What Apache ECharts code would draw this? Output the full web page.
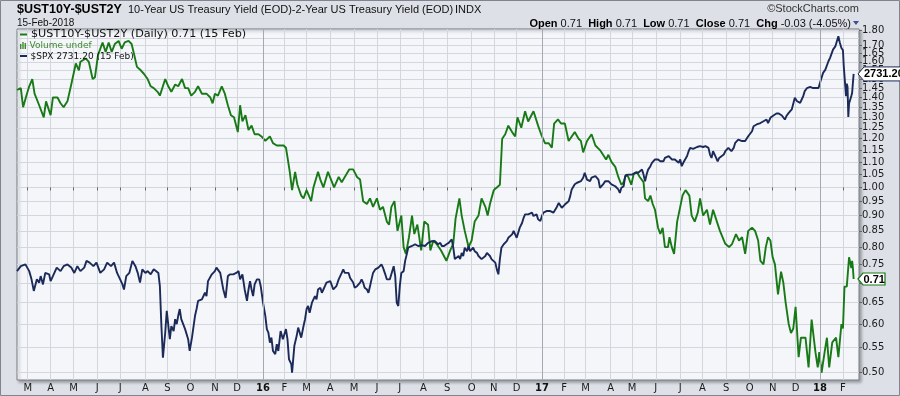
<!DOCTYPE html>
<html><head><meta charset="utf-8">
<script src="https://cdn.jsdelivr.net/npm/echarts@6/dist/echarts.min.js"></script>
<style>html,body{margin:0;padding:0;background:#dde0e7;}#c{width:900px;height:396px;}</style>
</head><body><div id="c"></div>
<script>
// ---- data ----
const spreadDates = [
'2015-02-16','2015-02-21','2015-02-24','2015-03-01','2015-03-04','2015-03-08','2015-03-11','2015-03-17','2015-03-23','2015-03-26',
'2015-04-01','2015-04-04','2015-04-10','2015-04-14','2015-04-18','2015-04-23','2015-04-28','2015-05-04','2015-05-08','2015-05-10',
'2015-05-17','2015-05-21','2015-05-26','2015-05-29','2015-06-02','2015-06-08','2015-06-12','2015-06-16','2015-06-20','2015-06-24',
'2015-06-29','2015-07-03','2015-07-07','2015-07-12','2015-07-16','2015-07-19','2015-07-23','2015-07-28','2015-08-01','2015-08-06',
'2015-08-10','2015-08-14','2015-08-19','2015-08-22','2015-08-29','2015-09-02','2015-09-06','2015-09-11','2015-09-15','2015-09-20',
'2015-09-24','2015-09-28','2015-10-02','2015-10-07','2015-10-11','2015-10-16','2015-10-22','2015-10-27','2015-10-30','2015-11-02',
'2015-11-06','2015-11-11','2015-11-15','2015-11-19','2015-11-23','2015-11-27','2015-12-02','2015-12-05','2015-12-08','2015-12-12',
'2015-12-16','2015-12-20','2015-12-24','2015-12-29','2016-01-02','2016-01-07','2016-01-13','2016-01-17','2016-01-22','2016-01-26',
'2016-01-31','2016-02-03','2016-02-05','2016-02-08','2016-02-11','2016-02-15','2016-02-18','2016-02-23','2016-02-26','2016-03-01',
'2016-03-07','2016-03-10','2016-03-16','2016-03-19','2016-03-23','2016-03-29','2016-04-02','2016-04-06','2016-04-12','2016-04-16',
'2016-04-20','2016-04-26','2016-05-01','2016-05-06','2016-05-10','2016-05-14','2016-05-19','2016-05-23','2016-05-27','2016-06-01',
'2016-06-05','2016-06-09','2016-06-14','2016-06-17','2016-06-20','2016-06-24','2016-06-28','2016-07-03','2016-07-06','2016-07-09',
'2016-07-13','2016-07-17','2016-07-20','2016-07-24','2016-07-29','2016-08-02','2016-08-07','2016-08-10','2016-08-14','2016-08-18',
'2016-08-24','2016-08-31','2016-09-05','2016-09-09','2016-09-12','2016-09-17','2016-09-20','2016-09-24','2016-09-29','2016-10-03',
'2016-10-07','2016-10-12','2016-10-16','2016-10-21','2016-10-24','2016-10-27','2016-11-01','2016-11-05','2016-11-09','2016-11-12',
'2016-11-16','2016-11-20','2016-11-25','2016-11-29','2016-12-02','2016-12-07','2016-12-12','2016-12-16','2016-12-23','2016-12-29',
'2017-01-02','2017-01-07','2017-01-12','2017-01-16','2017-01-19','2017-01-24','2017-01-28','2017-02-02','2017-02-07','2017-02-11',
'2017-02-15','2017-02-20','2017-02-23','2017-02-26','2017-03-03','2017-03-09','2017-03-14','2017-03-20','2017-03-24','2017-03-28',
'2017-03-31','2017-04-04','2017-04-09','2017-04-13','2017-04-17','2017-04-20','2017-04-23','2017-04-26','2017-04-30','2017-05-03',
'2017-05-07','2017-05-11','2017-05-16','2017-05-18','2017-05-22','2017-05-25','2017-05-28','2017-05-31','2017-06-04','2017-06-07',
'2017-06-10','2017-06-13','2017-06-17','2017-06-19','2017-06-22','2017-06-25','2017-06-29','2017-07-03','2017-07-06','2017-07-10',
'2017-07-15','2017-07-18','2017-07-22','2017-07-26','2017-07-29','2017-08-02','2017-08-07','2017-08-11','2017-08-15','2017-08-20',
'2017-08-24','2017-08-31','2017-09-05','2017-09-09','2017-09-14','2017-09-18','2017-09-22','2017-09-26','2017-09-30','2017-10-05',
'2017-10-09','2017-10-13','2017-10-16','2017-10-20','2017-10-23','2017-10-26','2017-10-29','2017-11-01','2017-11-04','2017-11-08',
'2017-11-12','2017-11-15','2017-11-18','2017-11-22','2017-11-25','2017-11-28','2017-12-01','2017-12-05','2017-12-08','2017-12-11',
'2017-12-14','2017-12-18','2017-12-22','2017-12-27','2017-12-30','2018-01-01','2018-01-04','2018-01-08','2018-01-11','2018-01-14',
'2018-01-18','2018-01-23','2018-01-26','2018-01-30','2018-02-01','2018-02-03','2018-02-06','2018-02-09','2018-02-12','2018-02-13',
'2018-02-14','2018-02-15'];
const spreadValues = [
1.44,1.45,1.35,1.42,1.46,1.50,1.42,1.36,1.30,1.38,
1.31,1.40,1.40,1.37,1.35,1.38,1.47,1.59,1.55,1.60,
1.62,1.60,1.50,1.51,1.64,1.72,1.66,1.72,1.66,1.71,
1.73,1.68,1.72,1.73,1.71,1.65,1.57,1.55,1.53,1.50,
1.46,1.45,1.43,1.41,1.50,1.46,1.43,1.47,1.46,1.50,
1.45,1.45,1.41,1.43,1.46,1.42,1.42,1.40,1.37,1.42,
1.41,1.46,1.42,1.36,1.31,1.30,1.23,1.36,1.28,1.31,
1.24,1.26,1.22,1.22,1.21,1.19,1.21,1.18,1.17,1.17,
1.17,1.16,1.12,1.06,0.99,1.06,1.01,0.97,0.96,0.99,
0.95,1.00,1.06,1.03,1.00,1.06,1.03,1.00,1.04,1.02,
1.04,1.07,1.07,1.04,1.03,0.95,0.94,0.96,0.93,0.96,
0.92,0.93,0.88,0.87,0.93,0.95,0.85,0.90,0.80,0.78,
0.83,0.90,0.84,0.87,0.79,0.88,0.87,0.79,0.82,0.81,
0.79,0.76,0.79,0.81,0.89,0.96,0.90,0.85,0.80,0.82,
0.88,0.90,0.96,0.93,0.90,0.94,0.99,1.00,1.01,1.20,
1.22,1.26,1.23,1.21,1.30,1.25,1.33,1.28,1.33,1.26,
1.22,1.18,1.18,1.16,1.27,1.29,1.27,1.27,1.19,1.21,
1.23,1.20,1.19,1.14,1.19,1.22,1.17,1.15,1.13,1.11,
1.13,1.10,1.08,1.04,1.01,1.02,1.05,1.04,1.01,1.05,
1.06,1.04,1.02,0.96,0.95,0.97,0.94,0.92,0.86,0.84,
0.86,0.80,0.80,0.83,0.80,0.78,0.88,0.93,0.97,0.99,
0.97,0.90,0.88,0.91,0.96,0.90,0.92,0.87,0.92,0.88,
0.85,0.81,0.80,0.81,0.84,0.82,0.83,0.78,0.85,0.86,
0.85,0.82,0.76,0.75,0.80,0.83,0.82,0.77,0.75,0.67,
0.73,0.70,0.65,0.60,0.58,0.59,0.64,0.53,0.57,0.57,
0.57,0.51,0.61,0.54,0.51,0.54,0.50,0.54,0.57,0.51,
0.56,0.57,0.53,0.60,0.59,0.69,0.69,0.77,0.74,0.76,
0.74,0.71];

const spxDates = [
'2015-02-16','2015-02-21','2015-02-27','2015-03-04','2015-03-07','2015-03-10','2015-03-14','2015-03-17','2015-03-19','2015-03-22',
'2015-03-25','2015-03-30','2015-04-01','2015-04-04','2015-04-09','2015-04-14','2015-04-18','2015-04-23','2015-04-28','2015-05-02',
'2015-05-06','2015-05-10','2015-05-15','2015-05-18','2015-05-22','2015-05-27','2015-05-31','2015-06-05','2015-06-10','2015-06-14',
'2015-06-19','2015-06-23','2015-06-27','2015-07-01','2015-07-04','2015-07-06','2015-07-09','2015-07-13','2015-07-17','2015-07-21',
'2015-07-24','2015-07-27','2015-07-30','2015-08-03','2015-08-06','2015-08-10','2015-08-14','2015-08-20','2015-08-22','2015-08-24',
'2015-08-26','2015-08-29','2015-08-31','2015-09-02','2015-09-04','2015-09-06','2015-09-09','2015-09-11','2015-09-13','2015-09-15',
'2015-09-17','2015-09-19','2015-09-24','2015-09-28','2015-09-30','2015-10-03','2015-10-07','2015-10-09','2015-10-11','2015-10-16',
'2015-10-20','2015-10-22','2015-10-24','2015-10-29','2015-11-02','2015-11-04','2015-11-09','2015-11-11','2015-11-13','2015-11-16',
'2015-11-19','2015-11-22','2015-11-26','2015-11-30','2015-12-03','2015-12-05','2015-12-08','2015-12-11','2015-12-14','2015-12-16',
'2015-12-18','2015-12-20','2015-12-22','2015-12-24','2015-12-27','2015-12-30','2016-01-01','2016-01-04','2016-01-07','2016-01-09',
'2016-01-11','2016-01-13','2016-01-15','2016-01-17','2016-01-20','2016-01-22','2016-01-24','2016-01-27','2016-01-30','2016-02-03',
'2016-02-05','2016-02-07','2016-02-10','2016-02-11','2016-02-14','2016-02-17','2016-02-19','2016-02-23','2016-02-26','2016-02-28',
'2016-03-01','2016-03-03','2016-03-05','2016-03-08','2016-03-10','2016-03-12','2016-03-14','2016-03-16','2016-03-19','2016-03-21',
'2016-03-23','2016-03-25','2016-03-27','2016-03-29','2016-04-01','2016-04-03','2016-04-05','2016-04-07','2016-04-09','2016-04-12',
'2016-04-14','2016-04-16','2016-04-18','2016-04-20','2016-04-22','2016-04-25','2016-04-27','2016-04-29','2016-05-01','2016-05-03',
'2016-05-06','2016-05-08','2016-05-10','2016-05-12','2016-05-14','2016-05-16','2016-05-19','2016-05-21','2016-05-23','2016-05-25',
'2016-05-27','2016-05-30','2016-06-01','2016-06-03','2016-06-05','2016-06-07','2016-06-09','2016-06-12','2016-06-14','2016-06-16',
'2016-06-18','2016-06-20','2016-06-23','2016-06-25','2016-06-27','2016-06-29','2016-07-01','2016-07-03','2016-07-06','2016-07-08',
'2016-07-10','2016-07-12','2016-07-17','2016-07-21','2016-07-25','2016-07-30','2016-08-03','2016-08-07','2016-08-12','2016-08-16',
'2016-08-20','2016-08-23','2016-08-25','2016-08-28','2016-08-31','2016-09-03','2016-09-05','2016-09-07','2016-09-09','2016-09-11',
'2016-09-13','2016-09-16','2016-09-18','2016-09-20','2016-09-22','2016-09-24','2016-09-27','2016-09-29','2016-10-01','2016-10-03',
'2016-10-05','2016-10-07','2016-10-10','2016-10-12','2016-10-14','2016-10-16','2016-10-18','2016-10-21','2016-10-23','2016-10-25',
'2016-10-27','2016-10-29','2016-10-31','2016-11-03','2016-11-05','2016-11-07','2016-11-09','2016-11-11','2016-11-14','2016-11-16',
'2016-11-18','2016-11-20','2016-11-22','2016-11-25','2016-11-27','2016-11-29','2016-12-01','2016-12-03','2016-12-05','2016-12-08',
'2016-12-10','2016-12-12','2016-12-14','2016-12-16','2016-12-18','2016-12-21','2016-12-23','2016-12-25','2016-12-27','2016-12-29',
'2017-01-01','2017-01-03','2017-01-05','2017-01-07','2017-01-09','2017-01-11','2017-01-14','2017-01-16','2017-01-18','2017-01-20',
'2017-01-22','2017-01-25','2017-01-27','2017-01-29','2017-01-31','2017-02-02','2017-02-04','2017-02-07','2017-02-09','2017-02-11',
'2017-02-13','2017-02-15','2017-02-18','2017-02-20','2017-02-23','2017-02-26','2017-02-28','2017-03-03','2017-03-05','2017-03-07',
'2017-03-09','2017-03-11','2017-03-14','2017-03-16','2017-03-18','2017-03-20','2017-03-22','2017-03-24','2017-03-27','2017-03-29',
'2017-03-31','2017-04-02','2017-04-04','2017-04-06','2017-04-09','2017-04-11','2017-04-13','2017-04-15','2017-04-17','2017-04-20',
'2017-04-22','2017-04-24','2017-04-26','2017-04-28','2017-05-01','2017-05-03','2017-05-05','2017-05-07','2017-05-09','2017-05-11',
'2017-05-14','2017-05-16','2017-05-18','2017-05-20','2017-05-22','2017-05-25','2017-05-27','2017-05-29','2017-05-31','2017-06-02',
'2017-06-04','2017-06-07','2017-06-09','2017-06-11','2017-06-13','2017-06-15','2017-06-18','2017-06-20','2017-06-22','2017-06-24',
'2017-06-26','2017-06-28','2017-07-01','2017-07-03','2017-07-05','2017-07-07','2017-07-09','2017-07-12','2017-07-14','2017-07-16',
'2017-07-18','2017-07-20','2017-07-22','2017-07-25','2017-07-27','2017-07-29','2017-07-31','2017-08-02','2017-08-05','2017-08-07',
'2017-08-09','2017-08-11','2017-08-13','2017-08-15','2017-08-18','2017-08-21','2017-08-23','2017-08-25','2017-08-29','2017-08-31',
'2017-09-02','2017-09-04','2017-09-06','2017-09-08','2017-09-11','2017-09-13','2017-09-15','2017-09-17','2017-09-19','2017-09-22',
'2017-09-24','2017-09-26','2017-09-28','2017-09-30','2017-10-02','2017-10-05','2017-10-07','2017-10-09','2017-10-11','2017-10-13',
'2017-10-16','2017-10-18','2017-10-20','2017-10-22','2017-10-24','2017-10-26','2017-10-29','2017-10-31','2017-11-02','2017-11-04',
'2017-11-06','2017-11-09','2017-11-11','2017-11-13','2017-11-15','2017-11-17','2017-11-19','2017-11-22','2017-11-24','2017-11-26',
'2017-11-28','2017-11-30','2017-12-03','2017-12-05','2017-12-07','2017-12-09','2017-12-11','2017-12-13','2017-12-16','2017-12-18',
'2017-12-20','2017-12-22','2017-12-24','2017-12-27','2017-12-29','2017-12-31','2018-01-02','2018-01-04','2018-01-06','2018-01-09',
'2018-01-11','2018-01-13','2018-01-15','2018-01-17','2018-01-19','2018-01-22','2018-01-24','2018-01-26','2018-01-28','2018-01-30',
'2018-02-01','2018-02-02','2018-02-05','2018-02-06','2018-02-07','2018-02-08','2018-02-09','2018-02-12','2018-02-13','2018-02-14',
'2018-02-15'];
const spxValues = [
2096,2110,2115,2096,2073,2041,2073,2064,2082,2059,
2091,2087,2068,2082,2106,2096,2110,2115,2106,2091,
2110,2096,2106,2125,2120,2110,2120,2091,2101,2120,
2110,2120,2091,2073,2059,2045,2082,2091,2125,2110,
2091,2064,2101,2091,2096,2087,2101,2091,2054,1947,
1866,1930,1987,1982,1913,1947,1934,1965,1952,1974,
1992,1965,1939,1913,1883,1917,1974,1992,2014,2018,
2036,2027,2068,2087,2096,2106,2091,2096,2045,2022,
2082,2087,2087,2091,2096,2073,2087,2045,2014,2045,
2068,2045,2027,2059,2073,2073,2054,2009,1974,1939,
1930,1904,1917,1883,1875,1900,1883,1934,1913,1939,
1913,1862,1850,1829,1896,1921,1943,1917,1947,1965,
1992,2000,1982,2009,2018,2027,2018,2045,2050,2036,
2045,2054,2064,2059,2068,2064,2045,2041,2054,2073,
2082,2091,2101,2091,2087,2091,2077,2082,2064,2050,
2054,2059,2064,2073,2064,2050,2045,2036,2054,2073,
2091,2101,2096,2106,2110,2115,2106,2087,2073,2073,
2073,2077,2110,2082,2009,2000,2054,2091,2096,2125,
2143,2163,2168,2173,2168,2170,2168,2177,2182,2182,
2173,2177,2168,2168,2173,2177,2178,2187,2163,2130,
2125,2139,2130,2148,2139,2163,2153,2168,2153,2158,
2163,2153,2148,2139,2134,2130,2134,2139,2148,2144,
2139,2130,2130,2120,2101,2087,2130,2163,2173,2168,
2182,2192,2197,2202,2212,2202,2192,2207,2222,2236,
2251,2262,2257,2262,2259,2267,2257,2255,2262,2247,
2242,2257,2267,2272,2272,2274,2272,2271,2267,2272,
2282,2297,2292,2282,2287,2292,2292,2302,2318,2339,
2344,2355,2360,2365,2365,2376,2392,2370,2376,2365,
2376,2370,2381,2376,2370,2344,2339,2355,2365,2360,
2365,2360,2355,2360,2349,2344,2339,2328,2344,2349,
2381,2386,2386,2392,2386,2392,2392,2397,2392,2397,
2402,2386,2365,2386,2402,2413,2424,2429,2435,2429,
2435,2429,2435,2429,2440,2435,2446,2451,2435,2429,
2435,2440,2424,2435,2413,2424,2429,2446,2462,2473,
2476,2470,2473,2476,2473,2479,2473,2476,2479,2481,
2473,2451,2440,2462,2446,2429,2440,2446,2451,2462,
2457,2473,2468,2462,2473,2490,2496,2501,2501,2496,
2501,2496,2496,2512,2518,2529,2546,2552,2552,2555,
2557,2557,2563,2569,2569,2557,2575,2581,2583,2586,
2590,2590,2586,2583,2581,2569,2581,2592,2598,2604,
2610,2645,2633,2639,2627,2639,2651,2669,2680,2686,
2684,2680,2680,2680,2686,2680,2699,2717,2735,2747,
2753,2778,2790,2797,2822,2834,2841,2873,2847,2828,
2819,2762,2651,2696,2684,2578,2625,2652,2662,2698,
2731.20];

const yTickValues = [0.50,0.55,0.60,0.65,0.70,0.75,0.80,0.85,0.90,0.95,1.00,1.05,1.10,1.15,1.20,1.25,1.30,1.35,1.40,1.45,1.50,1.55,1.60,1.65,1.70,1.75,1.80];
const xTickDates = ['2015-03-02','2015-04-01','2015-05-01','2015-06-01','2015-07-01','2015-08-03','2015-09-01','2015-10-01','2015-11-02','2015-12-01',
'2016-01-04','2016-02-01','2016-03-01','2016-04-01','2016-05-02','2016-06-01','2016-07-01','2016-08-01','2016-09-01','2016-10-03','2016-11-01','2016-12-01',
'2017-01-03','2017-02-01','2017-03-01','2017-04-03','2017-05-01','2017-06-01','2017-07-03','2017-08-01','2017-09-01','2017-10-02','2017-11-01','2017-12-01',
'2018-01-02','2018-02-01'];
const xTickLabels = ['M','A','M','J','J','A','S','O','N','D','16','F','M','A','M','J','J','A','S','O','N','D','17','F','M','A','M','J','J','A','S','O','N','D','18','F'];
const yearLineDates = ['2016-01-04','2017-01-03','2018-01-02'];
const xStart = '2015-02-16', xEnd = '2018-02-22';

// ---- chart ----
const GREEN = '#187a16', NAVY = '#1b2a58';
const ts = d => echarts.time.parse(d).getTime();
const chart = echarts.init(document.getElementById('c'), null, {renderer: 'canvas'});
const xTickTimes = xTickDates.map(ts);
const labelByTime = {};
xTickTimes.forEach((t, i) => { labelByTime[t] = xTickLabels[i]; });
const SPR_MIN = 0.4866, SPR_MAX = 1.8088;

const option = {
  animation: false,
  backgroundColor: '#dde0e7',
  grid: {left: 17, right: 41, top: 29, bottom: 16, show: true, backgroundColor: '#f5f6fa',
         borderColor: '#7a7e87', borderWidth: 1, shadowColor: 'rgba(0,0,0,0.3)', shadowBlur: 3, shadowOffsetX: 2, shadowOffsetY: 2},
  xAxis: {
    type: 'value', min: ts(xStart), max: ts(xEnd),
    axisLine: {show: false},
    axisTick: {show: true, customValues: xTickTimes, length: 3, lineStyle: {color: '#666'}},
    axisLabel: {
      customValues: xTickTimes, margin: 3, fontFamily: 'DejaVu Sans', fontSize: 10, color: '#1a1a1a', hideOverlap: false,
      showMinLabel: true, showMaxLabel: true,
      formatter: function (v) { const t = labelByTime[v]; if (t == null) return ''; return /\d/.test(t) ? '{y|' + t + '}' : t; },
      rich: {y: {fontFamily: 'DejaVu Sans', fontSize: 10, fontWeight: 'bold', color: '#111'}}
    },
    splitLine: {show: true, lineStyle: {color: '#d3d6dd', width: 1}}
  },
  yAxis: [
    {type: 'log', logBase: 10, min: SPR_MIN, max: SPR_MAX, position: 'right', show: false},
    {type: 'log', logBase: 10, min: 1811, max: 2901, position: 'right', show: false},
    {type: 'value', position: 'right', min: Math.log10(SPR_MIN), max: Math.log10(SPR_MAX),
     axisLine: {show: false},
     axisTick: {show: true, customValues: yTickValues.map(v => Math.log10(v)), length: 3, lineStyle: {color: '#666'}},
     axisLabel: {customValues: yTickValues.map(v => Math.log10(v)), margin: 3, fontFamily: 'DejaVu Sans', fontSize: 10, lineHeight: 5,
                 color: '#1a1a1a', hideOverlap: false, showMinLabel: true, showMaxLabel: true,
                 formatter: v => Math.pow(10, v).toFixed(2)},
     splitLine: {show: true, lineStyle: {color: '#d3d6dd', width: 1}}}
  ],
  series: [
    {type: 'line', name: '$UST10Y-$UST2Y', yAxisIndex: 0, showSymbol: false, symbol: 'none',
     data: spreadDates.map((d, i) => [ts(d), spreadValues[i]]),
     lineStyle: {color: GREEN, width: 1.9}, itemStyle: {color: GREEN}, z: 3,
     markLine: {silent: true, symbol: ['none', 'none'], label: {show: false}, animation: false,
                lineStyle: {color: '#a4a8b0', width: 1, type: 'solid'},
                data: yearLineDates.map(d => ({xAxis: ts(d)}))}},
    {type: 'line', name: '$SPX', yAxisIndex: 1, showSymbol: false, symbol: 'none',
     data: spxDates.map((d, i) => [ts(d), spxValues[i]]),
     lineStyle: {color: NAVY, width: 1.9}, itemStyle: {color: NAVY}, z: 4}
  ]
};
chart.setOption(option);

const lastSpr = spreadValues[spreadValues.length - 1];
const lastSpx = spxValues[spxValues.length - 1];
const ySpr = chart.convertToPixel({yAxisIndex: 0}, lastSpr);
const ySpx = chart.convertToPixel({yAxisIndex: 1}, lastSpx);

const txt = (x, y, text, o, z) => ({type: 'text', x: x, y: y, z: z || 100,
  style: Object.assign({text: text, fill: '#111', fontFamily: 'Liberation Sans', fontSize: 11, verticalAlign: 'middle', align: 'left'}, o || {})});

const graphics = [
  {type: 'rect', shape: {x: 0.5, y: 0.5, width: 899, height: 395}, style: {fill: 'none', stroke: '#80848c', lineWidth: 1}, z: 100},
  txt(17, 9.5, '$UST10Y-$UST2Y', {fontSize: 12.5, fontWeight: 'bold', fill: '#000'}),
  txt(128, 10, '10-Year US Treasury Yield (EOD)-2-Year US Treasury Yield (EOD)', {fill: '#111'}),
  txt(455, 10, 'INDX', {fill: '#111'}),
  txt(17, 23, '15-Feb-2018', {fontSize: 10, fill: '#111'}),
  txt(859, 9, '\u00A9StockCharts.com', {align: 'right', fill: '#333'}),
  txt(851, 23.5, '{b|Open} 0.71  {b|High} 0.71  {b|Low} 0.71  {b|Close} 0.71  {b|Chg} -0.03 (-4.05%)',
      {align: 'right', rich: {b: {fontWeight: 'bold', fontFamily: 'Liberation Sans', fontSize: 11, fill: '#000'}}}),
  {type: 'polygon', z: 100, shape: {points: [[853, 21], [859, 21], [856, 25]]}, style: {fill: '#3f4f8c'}},
  // legend inside plot
  {type: 'rect', z: 100, shape: {x: 20, y: 33.5, width: 7, height: 2}, style: {fill: GREEN}},
  txt(31, 34.5, '$UST10Y-$UST2Y (Daily) ' + lastSpr.toFixed(2) + ' (15 Feb)', {fontFamily: 'DejaVu Sans', fontSize: 11.2, fill: '#111'}),
  {type: 'rect', z: 100, shape: {x: 20, y: 44, width: 1.4, height: 5}, style: {fill: '#3d8a2c'}},
  {type: 'rect', z: 100, shape: {x: 22.3, y: 42, width: 1.4, height: 7}, style: {fill: '#3d8a2c'}},
  {type: 'rect', z: 100, shape: {x: 24.6, y: 43, width: 1.4, height: 6}, style: {fill: '#3d8a2c'}},
  txt(29.5, 46, 'Volume undef', {fontFamily: 'DejaVu Sans', fontSize: 9, fill: '#3d8a2c'}),
  {type: 'rect', z: 100, shape: {x: 20, y: 55, width: 7, height: 2}, style: {fill: NAVY}},
  txt(30.5, 56.5, '$SPX ' + lastSpx.toFixed(2) + ' (15 Feb)', {fontFamily: 'DejaVu Sans', fontSize: 9, fill: '#111'}),
  // last value tags on the right axis
  {type: 'polygon', z: 110, shape: {points: [[858, ySpx], [864, ySpx - 7], [903, ySpx - 7], [903, ySpx + 7], [864, ySpx + 7]]},
   style: {fill: '#fff', stroke: NAVY, lineWidth: 1}},
  txt(864, ySpx + 0.5, lastSpx.toFixed(2), {fontWeight: 'bold', fontSize: 11, fill: '#000'}, 120),
  {type: 'polygon', z: 110, shape: {points: [[858, ySpr], [863, ySpr - 6], [885, ySpr - 6], [885, ySpr + 6], [863, ySpr + 6]]},
   style: {fill: '#fff', stroke: GREEN, lineWidth: 1.2}},
  txt(863.5, ySpr + 0.5, lastSpr.toFixed(2), {fontWeight: 'bold', fontSize: 11, fill: '#000'}, 120)
];
chart.setOption({graphic: graphics});
</script>
</body></html>
